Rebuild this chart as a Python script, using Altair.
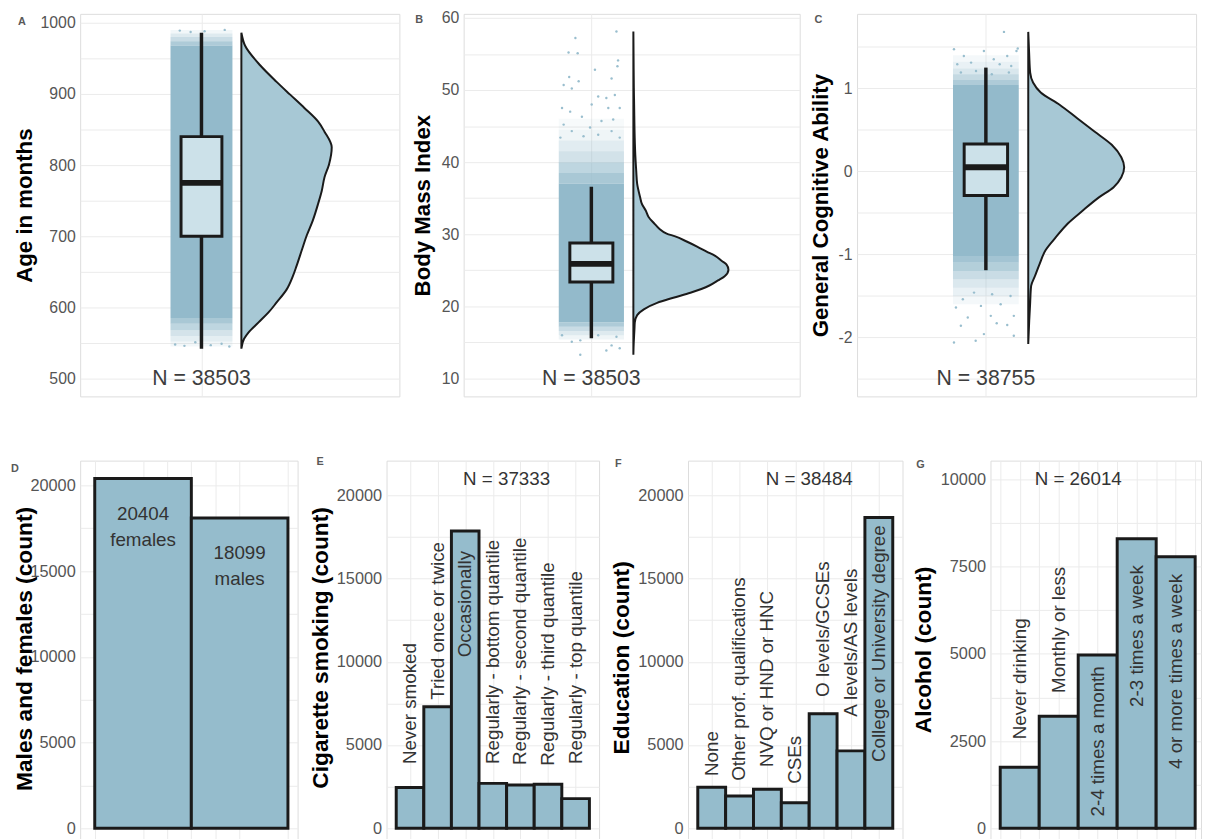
import altair as alt
import pandas as pd

FONT = "Liberation Sans"
GRID = "#EBEBEB"
INK = "#1A1A1A"
BAR_FILL = "#95BCCC"
CLOUD = "#93BACB"
VIOLIN_FILL = "#A7C8D5"
BOX_FILL = "#CCE1E9"
TICK_COL = "#555555"
TEXT_COL = "#333333"

# ---------------- A: Age in months ----------------
age_box = [542, 700, 775, 840, 986]          # lower whisker, Q1, median, Q3, upper whisker
age_violin_y = [542, 556, 565, 579, 593, 607, 625, 644, 658, 681, 700, 722, 746,
                764, 783, 801, 825, 847, 861, 880, 899, 917, 940, 968, 986]
age_violin_d = [0.0, 0.03, 0.08, 0.19, 0.30, 0.39, 0.50, 0.57, 0.61, 0.67, 0.72, 0.79, 0.85,
                0.89, 0.92, 0.97, 1.0, 0.92, 0.85, 0.70, 0.54, 0.39, 0.21, 0.04, 0.0]
# jitter cloud: point density per height band
age_band_lo = [545, 552, 560, 568, 577, 585, 968, 974, 980, 985]
age_band_hi = [552, 560, 568, 577, 585, 968, 974, 980, 985, 990]
age_band_density = [0.12, 0.25, 0.4, 0.6, 0.8, 1.0, 0.75, 0.5, 0.3, 0.12]
age_pts_jx = [-0.85, -0.55, -0.2, 0.3, 0.65, 0.9, -0.7, 0.1, 0.75, -0.35]
age_pts_y = [548, 546, 551, 547, 549, 545, 989, 988, 990, 987]
age_n = "N = 38503"
age_ticks = [500, 550, 600, 650, 700, 750, 800, 850, 900, 950, 1000]

# ---------------- B: Body Mass Index ----------------
bmi_box = [15.6, 23.4, 25.9, 28.8, 36.6]
bmi_violin_y = [13.3, 15.0, 16.0, 17.0, 17.8, 18.8, 19.6, 20.5, 21.2, 21.9, 22.9, 23.6, 24.2,
                25.1, 25.8, 26.3, 27.0, 27.6, 28.3, 29.0, 29.7, 30.1, 30.8, 31.5, 32.4, 33.3,
                34.2, 35.2, 37.0, 38.8, 41.1, 43.4, 48.0, 50.3, 54.8, 58.1]
bmi_violin_d = [0.0, 0.004, 0.008, 0.012, 0.015, 0.04, 0.11, 0.25, 0.42, 0.60, 0.80, 0.89, 0.96,
                1.0, 0.98, 0.93, 0.86, 0.77, 0.67, 0.56, 0.44, 0.35, 0.27, 0.22, 0.16, 0.13,
                0.09, 0.07, 0.04, 0.03, 0.02, 0.014, 0.008, 0.005, 0.002, 0.0]
bmi_band_lo = [15.4, 16.0, 16.6, 17.2, 17.8, 37.0, 38.5, 40.0, 41.5, 43.0, 44.5]
bmi_band_hi = [16.0, 16.6, 17.2, 17.8, 37.0, 38.5, 40.0, 41.5, 43.0, 44.5, 46.0]
bmi_band_density = [0.15, 0.3, 0.5, 0.75, 1.0, 0.8, 0.6, 0.42, 0.28, 0.15, 0.07]
bmi_pts_jx = [-0.49, -0.70, -0.42, 0.77, 0.11, -0.68, 0.62, 0.82, 0.80, -0.85, -0.60, -0.39,
              0.21, 0.46, 0.72, 0.01, -0.90, -0.65, 0.52, 0.87, -0.29, -0.85, 0.31, 0.67,
              -0.60, -0.04, 0.21, 0.62, -0.95, -0.24, 0.87,
              -0.60, -0.34, -0.34, 0.46, 0.62, 0.87, -0.90, 0.77, 0.21]
bmi_pts_y = [57.2, 55.2, 55.1, 58.1, 52.8, 51.8, 51.6, 54.1, 53.3, 50.7, 50.2, 51.2,
             49.1, 48.9, 49.3, 48.0, 47.5, 47.0, 47.5, 47.5, 46.3, 45.2, 45.7, 45.9,
             44.3, 44.8, 43.8, 44.3, 43.4, 43.6, 43.4,
             15.1, 15.3, 13.3, 13.9, 14.6, 14.2, 16.0, 15.8, 16.0]
bmi_n = "N = 38503"
bmi_ticks = [10, 15, 20, 25, 30, 35, 40, 45, 50, 55, 60]

# ---------------- C: General Cognitive Ability ----------------
gca_box = [-1.19, -0.29, 0.05, 0.33, 1.25]
gca_violin_y = [-2.08, -1.8, -1.58, -1.38, -1.26, -1.11, -0.95, -0.79, -0.63, -0.48, -0.31, -0.19,
                -0.07, 0.05, 0.17, 0.32, 0.48, 0.64, 0.80, 0.95, 1.07, 1.19, 1.4, 1.68]
gca_violin_d = [0.0, 0.01, 0.02, 0.03, 0.07, 0.12, 0.18, 0.29, 0.41, 0.56, 0.74, 0.89,
                0.97, 1.0, 0.97, 0.87, 0.69, 0.51, 0.33, 0.13, 0.05, 0.02, 0.01, 0.0]
gca_band_lo = [-1.6, -1.5, -1.4, -1.3, -1.2, -1.1, -1.02, 1.04, 1.1, 1.17, 1.24, 1.32]
gca_band_hi = [-1.5, -1.4, -1.3, -1.2, -1.1, -1.02, 1.04, 1.1, 1.17, 1.24, 1.32, 1.4]
gca_band_density = [0.1, 0.2, 0.33, 0.5, 0.7, 0.85, 1.0, 0.75, 0.55, 0.35, 0.2, 0.1]
gca_pts_jx = [0.55, -0.97, -0.06, 0.97, 0.93, -0.67, 0.24, 0.65, -0.87, -0.45, 0.42, 0.77,
              -0.76, -0.30, 0.18, 0.70,
              -0.97, -0.31, 0.85, -0.06, -0.76, 0.33, 0.65, -0.55, 0.15, 0.85, -0.91,
              -0.15, 0.45, -0.70, 0.75, -0.36, 0.19]
gca_pts_y = [1.68, 1.47, 1.45, 1.48, 1.45, 1.39, 1.35, 1.39, 1.29, 1.31, 1.29, 1.27,
             1.19, 1.21, 1.17, 1.19,
             -2.06, -2.04, -1.98, -1.96, -1.86, -1.83, -1.85, -1.76, -1.74, -1.74, -1.64,
             -1.62, -1.60, -1.54, -1.50, -1.46, -1.48]
gca_n = "N = 38755"
gca_ticks = [-2.5, -2.0, -1.5, -1.0, -0.5, 0.0, 0.5, 1.0, 1.5]

# ---------------- D: sex ----------------
sex_words = ["females", "males"]
sex_counts = [20404, 18099]

# ---------------- E: smoking ----------------
smoke_cats = ["Never smoked", "Tried once or twice", "Occasionally",
              "Regularly - bottom quantile", "Regularly - second quantile",
              "Regularly - third quantile", "Regularly - top quantile"]
smoke_counts = [2450, 7300, 17850, 2700, 2600, 2650, 1783]
smoke_label_at = [3860, 7715, 10270, 3860, 3800, 3760, 3860]
smoke_n = "N = 37333"

# ---------------- F: education ----------------
edu_cats = ["None", "Other prof. qualifications", "NVQ or HND or HNC", "CSEs",
            "O levels/GCSEs", "A levels/AS levels", "College or University degree"]
edu_counts = [2470, 1940, 2350, 1530, 6880, 4650, 18664]
edu_label_at = [3145, 2850, 3680, 2670, 7890, 6700, 3980]
edu_n = "N = 38484"

# ---------------- G: alcohol ----------------
alc_cats = ["Never drinking", "Monthly or less", "2-4 times a month",
            "2-3 times a week", "4 or more times a week"]
alc_counts = [1750, 3215, 4965, 8300, 7784]
alc_label_at = [2550, 3880, 340, 3480, 1700]
alc_n = "N = 26014"

count_ticks_20k = [0, 2500, 5000, 7500, 10000, 12500, 15000, 17500, 20000]
count_ticks_10k = [0, 1250, 2500, 3750, 5000, 6250, 7500, 8750, 10000]

# ---------------- layout constants ----------------
BOX_X = 3.8
BOX_HALF = 0.64
JIT_HALF = 0.97
VIO_X = 5.05
VIO_W = 2.83
TOP_H = 387
BOT_H = 390
TOP_PAD = 40      # invisible layout guide above row 1
ROW1_BELOW = 20   # invisible layout guide below row 1
ROW2_PAD = 20     # invisible layout guide above / below row 2


def y_axis(values, step, title, tx, ty, fsize, tsize):
    return alt.Axis(values=values, labelExpr=f"datum.value % {step} === 0 ? toString(datum.value) : ''",
                    grid=True, gridColor=GRID, gridWidth=1, ticks=False, tickSize=0, domain=False,
                    labelFont=FONT, labelFontSize=fsize, labelColor=TICK_COL, labelPadding=5,
                    labelOverlap=False,
                    title=title, titleFont=FONT, titleFontSize=tsize, titleFontWeight="bold",
                    titleColor="black", titleX=tx, titleY=ty, titleAngle=270, titleAlign="center",
                    titleBaseline="alphabetic")


def x_axis(values):
    return alt.Axis(values=values, grid=True, gridColor=GRID, gridWidth=1, labels=False,
                    ticks=False, tickSize=0, domain=False, title=None)


def letter_layer(letter, lx, ly):
    return alt.Chart(pd.DataFrame({"t": [letter]})).mark_text(
        font=FONT, fontSize=11, fontWeight="bold", color="#595959", align="left", baseline="top"
    ).encode(x=alt.value(lx), y=alt.value(ly), text="t:N")


def guide_layer(ax, ytop, ybot):
    # invisible vertical guide that fixes each panel's layout bounds
    return alt.Chart(pd.DataFrame({"a": [0]})).mark_rule(opacity=0, strokeWidth=0).encode(
        x=alt.value(ax), x2=alt.value(ax), y=alt.value(ytop), y2=alt.value(ybot))


def raincloud(letter, lxy, gx, width, height, ydomain, ticks, step, title, tx,
              box, vy, vd, blo, bhi, bd, pjx, py, ntext, ny):
    xs = alt.Scale(domain=[0, 10], nice=False, zero=False)
    ys = alt.Scale(domain=ydomain, nice=False, zero=False)
    xa = x_axis([BOX_X])
    ya = y_axis(ticks, step, title, tx, height / 2, 16, 22.5)
    bands = pd.DataFrame({"lo": blo, "hi": bhi, "d": bd})
    base = alt.Chart(bands).mark_rect(color=CLOUD).encode(
        x=alt.XDatum(BOX_X - JIT_HALF, type="quantitative", scale=xs, axis=xa),
        x2=alt.X2Datum(BOX_X + JIT_HALF),
        y=alt.Y("lo:Q", scale=ys, axis=ya),
        y2="hi:Q",
        opacity=alt.Opacity("d:Q", scale=alt.Scale(domain=[0, 1], range=[0, 1]), legend=None),
    )
    pts = alt.Chart(pd.DataFrame({"jx": pjx, "y": py})).transform_calculate(
        px=f"{BOX_X} + datum.jx * {JIT_HALF}"
    ).mark_circle(size=6, color=CLOUD, opacity=0.95).encode(
        x=alt.X("px:Q", scale=xs, axis=xa), y=alt.Y("y:Q", scale=ys, axis=ya))
    st = pd.DataFrame({"lw": [box[0]], "q1": [box[1]], "med": [box[2]], "q3": [box[3]], "uw": [box[4]]})
    whisk = alt.Chart(st).mark_rule(color=INK, strokeWidth=3.5).encode(
        x=alt.XDatum(BOX_X, type="quantitative", scale=xs, axis=xa),
        y=alt.Y("lw:Q", scale=ys, axis=ya), y2="uw:Q")
    boxr = alt.Chart(st).mark_rect(fill=BOX_FILL, stroke=INK, strokeWidth=3).encode(
        x=alt.XDatum(BOX_X - BOX_HALF, type="quantitative", scale=xs, axis=xa),
        x2=alt.X2Datum(BOX_X + BOX_HALF),
        y=alt.Y("q1:Q", scale=ys, axis=ya), y2="q3:Q")
    med = alt.Chart(st).mark_rule(color=INK, strokeWidth=6).encode(
        x=alt.XDatum(BOX_X - BOX_HALF, type="quantitative", scale=xs, axis=xa),
        x2=alt.X2Datum(BOX_X + BOX_HALF),
        y=alt.Y("med:Q", scale=ys, axis=ya))
    violin = alt.Chart(pd.DataFrame({"y": vy, "d": vd})).transform_calculate(
        vx=f"{VIO_X} + datum.d * {VIO_W}"
    ).mark_area(orient="horizontal", fill=VIOLIN_FILL, stroke=INK, strokeWidth=2,
                interpolate="monotone").encode(
        y=alt.Y("y:Q", scale=ys, axis=ya),
        x=alt.X("vx:Q", scale=xs, axis=xa, stack=None),
        x2=alt.X2Datum(VIO_X))
    nl = alt.Chart(pd.DataFrame({"t": [ntext], "y": [ny]})).mark_text(
        font=FONT, fontSize=21.5, color="#3D3D3D").encode(
        x=alt.XDatum(BOX_X, type="quantitative", scale=xs, axis=xa),
        y=alt.Y("y:Q", scale=ys, axis=ya), text="t:N")
    return alt.layer(base, pts, whisk, boxr, med, violin, nl,
                     letter_layer(letter, *lxy),
                     guide_layer(gx, -TOP_PAD, height + ROW1_BELOW)).properties(
        width=width, height=height)


def bar_panel(letter, lxy, gx, width, height, xdomain, xgrid, ydomain, ticks, step,
              title, tx, ty, cats, counts, label_at=None, ntext=None, nx=None, ny=None, inside=None):
    xs = alt.Scale(domain=xdomain, nice=False, zero=False)
    ys = alt.Scale(domain=ydomain, nice=False, zero=False)
    xa = x_axis(xgrid)
    ya = y_axis(ticks, step, title, tx, ty, 16.5, 23)
    df = pd.DataFrame({"cat": cats, "count": counts})
    df["i"] = list(range(1, len(cats) + 1))
    if label_at is not None:
        df["at"] = label_at
    bars = alt.Chart(df).transform_calculate(
        xl="datum.i - 0.5", xr="datum.i + 0.5"
    ).mark_rect(fill=BAR_FILL, stroke=INK, strokeWidth=3).encode(
        x=alt.X("xl:Q", scale=xs, axis=xa), x2="xr:Q",
        y=alt.Y("count:Q", scale=ys, axis=ya),
        y2=alt.Y2Datum(0))
    layers = [bars]
    if label_at is not None:
        layers.append(alt.Chart(df).mark_text(
            angle=270, align="left", baseline="middle", font=FONT, fontSize=19, color=TEXT_COL
        ).encode(x=alt.X("i:Q", scale=xs, axis=xa), y=alt.Y("at:Q", scale=ys, axis=ya),
                 text="cat:N"))
    if inside is not None:
        dfi = df.copy()
        dfi["lab"] = [f"{c}\n{w}" for c, w in zip(counts, inside)]
        layers.append(alt.Chart(dfi).mark_text(
            font=FONT, fontSize=19, color=TEXT_COL, lineBreak="\n", lineHeight=26,
            baseline="middle", dy=36
        ).encode(x=alt.X("i:Q", scale=xs, axis=xa), y=alt.Y("count:Q", scale=ys, axis=ya),
                 text="lab:N"))
    if ntext is not None:
        layers.append(alt.Chart(pd.DataFrame({"t": [ntext], "x": [nx], "y": [ny]})).mark_text(
            font=FONT, fontSize=19, color=TEXT_COL
        ).encode(x=alt.X("x:Q", scale=xs, axis=xa), y=alt.Y("y:Q", scale=ys, axis=ya),
                 text="t:N"))
    layers.append(letter_layer(letter, *lxy))
    layers.append(guide_layer(gx, -ROW2_PAD, height + ROW2_PAD))
    return alt.layer(*layers).properties(width=width, height=height)


pA = raincloud("A", (-63, 2), -70, 323, TOP_H, [475, 1012.5], age_ticks, 100,
               "Age in months", -49, age_box, age_violin_y, age_violin_d,
               age_band_lo, age_band_hi, age_band_density, age_pts_jx, age_pts_y, age_n, 500)
pB = raincloud("B", (-49, 0), -63, 340, TOP_H, [7.53, 60.55], bmi_ticks, 10,
               "Body Mass Index", -35, bmi_box, bmi_violin_y, bmi_violin_d,
               bmi_band_lo, bmi_band_hi, bmi_band_density, bmi_pts_jx, bmi_pts_y, bmi_n, 10)
pC = raincloud("C", (-43, 0), -56, 343, TOP_H, [-2.71, 1.897], gca_ticks, 1,
               "General Cognitive Ability", -30, gca_box, gca_violin_y, gca_violin_d,
               gca_band_lo, gca_band_hi, gca_band_density, gca_pts_jx, gca_pts_y, gca_n, -2.5)

pD = bar_panel("D", (-70, 2), -70, 220, BOT_H, [0.349, 2.6],
               [0.5, 1.0, 1.25, 1.5, 1.75, 2.0, 2.5], [-1037, 21441], count_ticks_20k, 5000,
               "Males and females (count)", -49, 190, ["females", "males"], sex_counts,
               inside=sex_words)
pE = bar_panel("E", (-71, -5), -88, 215, BOT_H, [0.15, 7.85],
               [1, 2, 3, 4, 5, 6, 7], [-1068, 22077], count_ticks_20k, 5000,
               "Cigarette smoking (count)", -60, 189, smoke_cats, smoke_counts,
               label_at=smoke_label_at, ntext=smoke_n, nx=4.5, ny=21000)
pF = bar_panel("F", (-74, -3), -88, 217, BOT_H, [0.15, 7.85],
               [1, 2, 3, 4, 5, 6, 7], [-1068, 22077], count_ticks_20k, 5000,
               "Education (count)", -60, 199, edu_cats, edu_counts,
               label_at=edu_label_at, ntext=edu_n, nx=4.5, ny=21000)
pG = bar_panel("G", (-75, -2), -87, 213, BOT_H, [0.25, 5.65],
               [0.5, 1.0, 1.5, 2.0, 2.5, 3.0, 3.5, 4.0, 4.5, 5.0, 5.5], [-510, 10538],
               count_ticks_10k, 2500, "Alcohol (count)", -60.5, 191, alc_cats, alc_counts,
               label_at=alc_label_at, ntext=alc_n, nx=2.5, ny=10000)

row1 = alt.hconcat(pA, pB, pC, spacing=0)
row2 = alt.hconcat(pD, pE, pF, pG, spacing=0)

# row 2 plot top sits 450 px below row 1 plot top
chart = alt.vconcat(row1, row2, spacing=450 - TOP_H - ROW1_BELOW - ROW2_PAD).properties(
    padding={"left": 2, "top": -TOP_PAD, "right": 0, "bottom": -ROW2_PAD}
).configure_view(strokeWidth=0).configure(font=FONT)

chart.save("out.html", embed_options={"renderer": "svg", "actions": False})
